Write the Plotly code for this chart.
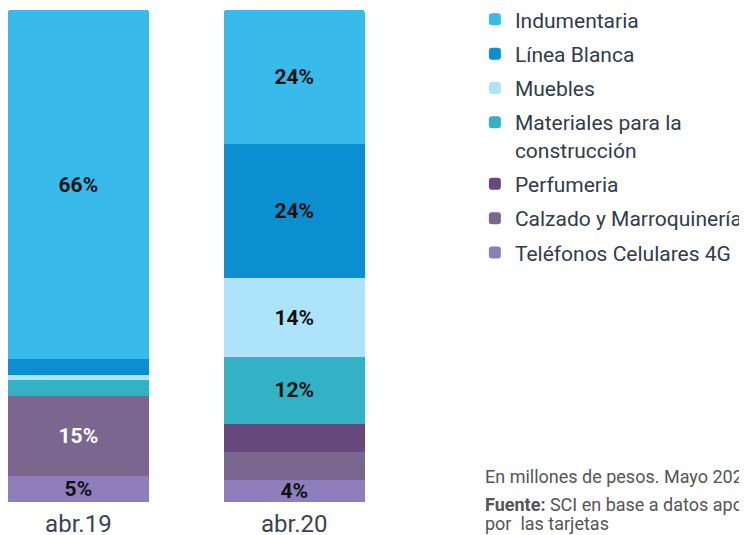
import plotly.graph_objects as go

categories = ["abr.19", "abr.20"]

# share of total card spending (%), bottom of stack first
series_names = ["Teléfonos Celulares 4G", "Calzado y Marroquinería", "Perfumeria",
                "Materiales para la<br>construcción", "Muebles", "Línea Blanca", "Indumentaria"]
values = {
    "Teléfonos Celulares 4G": [5, 4],
    "Calzado y Marroquinería": [15, 5],
    "Perfumeria": [0, 5],
    "Materiales para la<br>construcción": [3, 12],
    "Muebles": [1, 14],
    "Línea Blanca": [3, 24],
    "Indumentaria": [66, 24],
}
labels = {
    "Teléfonos Celulares 4G": ["5%", "4%"],
    "Calzado y Marroquinería": ["15%", ""],
    "Perfumeria": ["", ""],
    "Materiales para la<br>construcción": ["", "12%"],
    "Muebles": ["", "14%"],
    "Línea Blanca": ["", "24%"],
    "Indumentaria": ["66%", "24%"],
}
colors = {
    "Teléfonos Celulares 4G": "#8E7FBC",
    "Calzado y Marroquinería": "#7B6690",
    "Perfumeria": "#67497D",
    "Materiales para la<br>construcción": "#33B2C6",
    "Muebles": "#ADE4FC",
    "Línea Blanca": "#0C8FD1",
    "Indumentaria": "#38BBEB",
}
label_colors = {
    "Calzado y Marroquinería": "#FFFFFF",
}
note_lines = ["En millones de pesos. Mayo 2020",
              "<b>Fuente:</b> SCI en base a datos aportados",
              "por  las tarjetas"]

fig = go.Figure()
n = len(series_names)
for i, name in enumerate(series_names):
    fig.add_trace(go.Bar(
        x=categories, y=values[name], name=name, legendgroup=name, legendrank=n - i,
        marker=dict(color=colors[name], line=dict(width=0)),
        width=0.653,
        text=labels[name], textposition="inside", insidetextanchor="middle",
        textangle=0, constraintext="none",
        textfont=dict(family="Roboto", size=21, color=label_colors.get(name, "#111111"), weight="bold"),
        hoverinfo="skip",
    ))

fig.update_layout(
    width=747, height=535,
    barmode="stack", barnorm="percent", barcornerradius=3,
    paper_bgcolor="white", plot_bgcolor="white",
    margin=dict(l=0, r=0, t=2, b=41, autoexpand=False),
    font=dict(family="Roboto", color="#34404F"),
    xaxis=dict(domain=[0, 0.495], range=[-0.326, 1.387], showgrid=False, zeroline=False,
               showline=False, ticks="", ticklabelstandoff=5,
               tickfont=dict(size=24, color="#3A4450")),
    yaxis=dict(range=[0, 100], visible=False),
    showlegend=True,
    legend=dict(x=0.625, y=1.022, xanchor="left", yanchor="top", traceorder="grouped",
                valign="top", font=dict(size=21, color="#2F3D4C"), itemclick=False, tracegroupgap=4,
                bgcolor="rgba(0,0,0,0)"),
    uniformtext=dict(minsize=17, mode="show"),
)

note_y = [0.0528, -0.0041, -0.0447]
for txt, yy in zip(note_lines, note_y):
    fig.add_annotation(xref="paper", yref="paper", x=0.636, y=yy, xanchor="left", yanchor="middle",
                       text=txt, showarrow=False, align="left",
                       font=dict(size=18, color="#555555"))

fig.write_html("out.html")
